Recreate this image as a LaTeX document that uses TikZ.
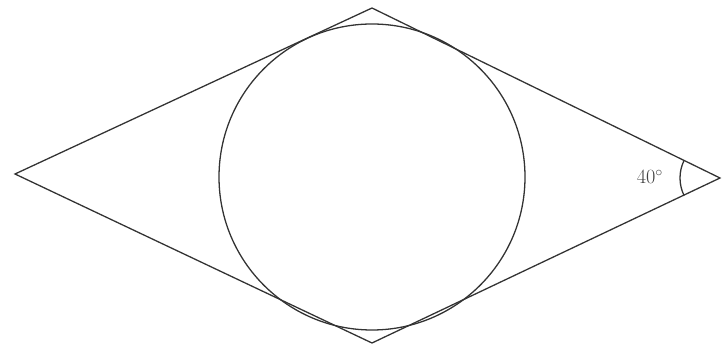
\documentclass[tikz,border=0pt]{standalone}
\begin{document}
\begin{tikzpicture}[x=0.03cm,y=-0.03cm,
  shape line/.style={draw=black!80,line width=1.1pt,line join=miter}]
\useasboundingbox (0,0) rectangle (728,349);
\coordinate (L) at (15,174);
\coordinate (T) at (372,8);
\coordinate (R) at (720,178);
\coordinate (B) at (372,343);
\coordinate (O) at (372,177);
\draw[shape line] (L) -- (T) -- (R) -- (B) -- cycle;
\draw[shape line] (O) circle[radius=153];
\draw[shape line] ([shift={(206:40)}]R) arc[start angle=206,end angle=154,radius=40];
\node[font=\LARGE,text=black!75] (lab) at (650,177) {$40^\circ$};
\end{tikzpicture}
\end{document}
